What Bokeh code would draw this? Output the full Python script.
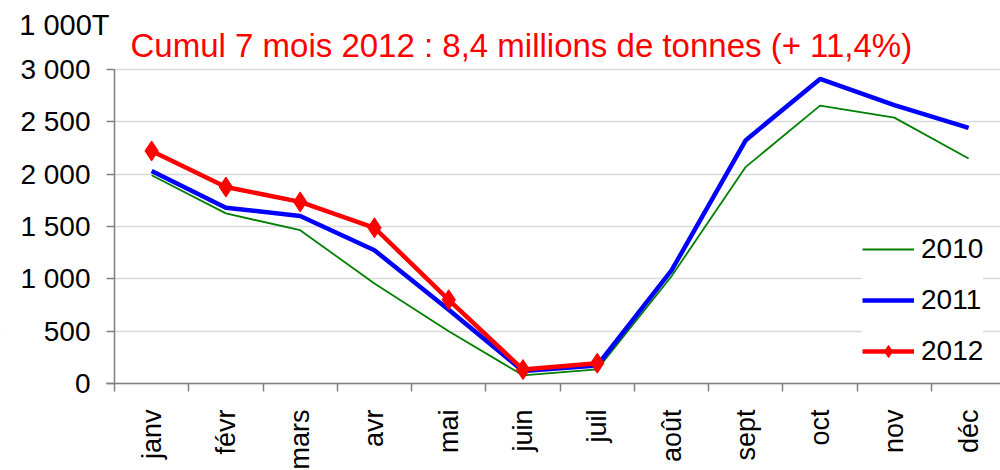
import math
from bokeh.plotting import figure
from bokeh.models import FixedTicker, Range1d, Label, Legend, LegendItem, BoxAnnotation
from bokeh.embed import file_html
from bokeh.resources import INLINE

months = ["janv", "févr", "mars", "avr", "mai", "juin", "juil", "août", "sept", "oct", "nov", "déc"]
v2010 = [1990, 1625, 1465, 955, 500, 78, 135, 1025, 2070, 2655, 2540, 2150]
v2011 = [2030, 1680, 1600, 1273, 705, 120, 172, 1080, 2325, 2910, 2660, 2443]
v2012 = [2222, 1877, 1735, 1488, 800, 133, 194]
y_ticks = [0, 500, 1000, 1500, 2000, 2500, 3000]
y_tick_labels = ["0", "500", "1 000", "1 500", "2 000", "2 500", "3 000"]
title_text = "Cumul 7 mois 2012 : 8,4 millions de tonnes (+ 11,4%)"
unit_text = "1 000T"

FONT = "Liberation Sans"
x = list(range(len(months)))

W, H = 1000, 470
AX_X, AX_Y, TOP_Y = 114, 383, 69      # pixel positions of axis origin and of 3000
CAT = 74.27                            # pixels per category
PPU = (AX_Y - TOP_Y) / 3000.0          # pixels per unit

x0 = -0.5 - AX_X / CAT
x1 = -0.5 + (W - AX_X) / CAT
y0 = -(H - AX_Y) / PPU
y1 = AX_Y / PPU

p = figure(width=W, height=H, output_backend="svg", toolbar_location=None,
           x_range=Range1d(x0, x1), y_range=Range1d(y0, y1),
           min_border_left=0, min_border_top=0, min_border_bottom=0, min_border_right=0)
p.outline_line_color = None
p.background_fill_color = "white"
p.border_fill_color = "white"

# grid
p.xgrid.visible = False
p.ygrid.ticker = FixedTicker(ticks=y_ticks)
p.ygrid.grid_line_color = "#d9d9d9"
p.ygrid.grid_line_width = 1.5
# hide grid left of the value axis
p.add_layout(BoxAnnotation(right=-0.5, fill_color="white", fill_alpha=1.0,
                           line_color=None, level="underlay"))

# y axis
p.yaxis.fixed_location = -0.5
p.yaxis.ticker = FixedTicker(ticks=y_ticks)
p.yaxis.bounds = (0, 3000)
p.yaxis.major_label_overrides = {t: l for t, l in zip(y_ticks, y_tick_labels)}
p.yaxis.major_label_text_font = FONT
p.yaxis.major_label_text_font_size = "28px"
p.yaxis.major_label_text_color = "black"
p.yaxis.major_tick_out = 8
p.yaxis.major_tick_in = 0
p.yaxis.minor_tick_out = 0
p.yaxis.minor_tick_in = 0
p.yaxis.major_label_standoff = 16
p.yaxis.axis_line_color = "#808080"
p.yaxis.axis_line_width = 1.5
p.yaxis.major_tick_line_color = "#808080"
p.yaxis.major_tick_line_width = 1.5

# x axis
p.xaxis.fixed_location = 0
p.xaxis.bounds = (-0.5 - 8 / CAT, x1)
p.xaxis.ticker = FixedTicker(ticks=x, minor_ticks=[i - 0.5 for i in range(13)])
p.xaxis.major_label_overrides = {i: m for i, m in enumerate(months)}
p.xaxis.major_label_orientation = math.pi / 2
p.xaxis.major_label_text_font = FONT
p.xaxis.major_label_text_font_size = "27px"
p.xaxis.major_label_text_color = "black"
p.xaxis.major_tick_out = 0
p.xaxis.major_tick_in = 0
p.xaxis.minor_tick_out = 8
p.xaxis.minor_tick_in = 0
p.xaxis.minor_tick_line_color = "#808080"
p.xaxis.minor_tick_line_width = 1.5
p.xaxis.major_label_standoff = 18
p.xaxis.axis_line_color = "#808080"
p.xaxis.axis_line_width = 1.5

r10 = p.line(x, v2010, line_color="#008000", line_width=1.8)
r11 = p.line(x, v2011, line_color="#0000ff", line_width=4.5)
r12 = p.line(x[:len(v2012)], v2012, line_color="#ff0000", line_width=4.5)
r12m = p.scatter(x[:len(v2012)], v2012, marker="diamond", size=20, fill_color="#ff0000", line_color="#ff0000")

legend = Legend(items=[LegendItem(label="2010", renderers=[r10]),
                       LegendItem(label="2011", renderers=[r11]),
                       LegendItem(label="2012", renderers=[r12, r12m])],
                location=(862, 103), orientation="vertical")
legend.label_text_font = FONT
legend.label_text_font_size = "28px"
legend.label_text_color = "black"
legend.glyph_width = 52
legend.glyph_height = 30
legend.label_height = 30
legend.label_standoff = 7
legend.spacing = 19
legend.padding = 13
legend.margin = 0
legend.border_line_color = None
legend.background_fill_color = "white"
legend.background_fill_alpha = 1.0
p.add_layout(legend, "center")

p.add_layout(Label(x=-0.5 + (130 - AX_X) / CAT, y=(AX_Y - 45) / PPU, text=title_text,
                   text_color="#ff0000", text_font=FONT, text_font_size="33px",
                   text_baseline="alphabetic", text_align="left"))
p.add_layout(Label(x=-0.5 + (109 - AX_X) / CAT, y=(AX_Y - 24) / PPU, text=unit_text,
                   text_color="black", text_font=FONT, text_font_size="29px",
                   text_baseline="alphabetic", text_align="right"))

open("out.html", "w").write(file_html(p, INLINE))
